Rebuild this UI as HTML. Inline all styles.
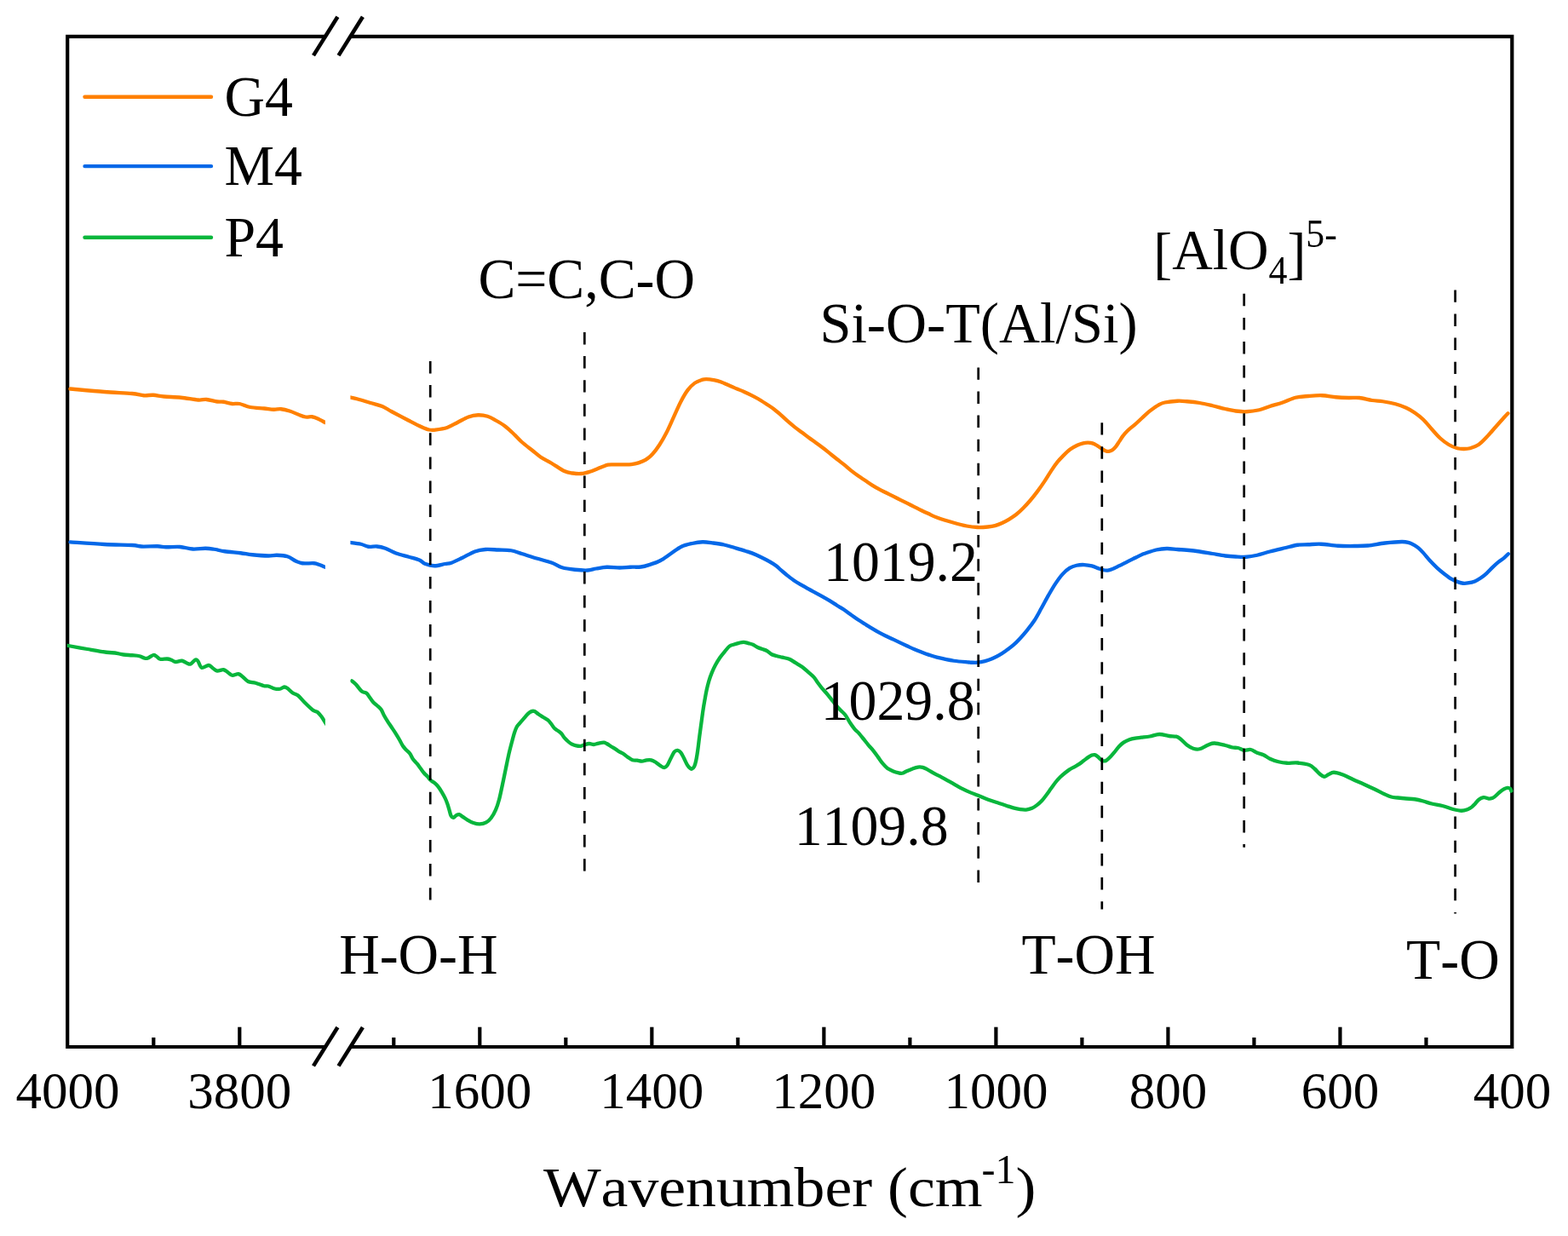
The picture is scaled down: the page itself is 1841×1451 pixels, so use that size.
<!DOCTYPE html>
<html lang="en"><head><meta charset="utf-8"><title>FTIR spectra</title>
<style>html,body{margin:0;padding:0;background:#fff}body{width:1841px;height:1451px;overflow:hidden}svg{display:block}text{font-family:"Liberation Serif","Times New Roman",serif;fill:#000;font-kerning:none}</style></head><body>
<svg width="1841" height="1451" viewBox="0 0 1841 1451">
<rect width="1841" height="1451" fill="#fff"/>
<defs><clipPath id="cl"><rect x="78.70" y="0" width="303.20" height="1451"/></clipPath><clipPath id="cr"><rect x="411.40" y="0" width="1378.60" height="1451"/></clipPath></defs>
<g stroke="#000" stroke-width="4.20" fill="none" stroke-linecap="butt">
<path d="M382.00 42.90 H79.20 V1229.00 H382.00"/>
<path d="M411.50 42.90 H1775.30 V1229.00 H411.50"/>
<line stroke-width="4.6" x1="368.00" y1="65.10" x2="396.40" y2="19.70"/>
<line stroke-width="4.6" x1="397.50" y1="65.10" x2="425.90" y2="19.70"/>
<line stroke-width="4.6" x1="368.00" y1="1251.40" x2="396.40" y2="1206.00"/>
<line stroke-width="4.6" x1="397.50" y1="1251.40" x2="425.90" y2="1206.00"/>
<line x1="281.30" y1="1229.00" x2="281.30" y2="1205.70"/>
<line x1="563.30" y1="1229.00" x2="563.30" y2="1205.70"/>
<line x1="765.33" y1="1229.00" x2="765.33" y2="1205.70"/>
<line x1="967.36" y1="1229.00" x2="967.36" y2="1205.70"/>
<line x1="1169.39" y1="1229.00" x2="1169.39" y2="1205.70"/>
<line x1="1371.42" y1="1229.00" x2="1371.42" y2="1205.70"/>
<line x1="1573.45" y1="1229.00" x2="1573.45" y2="1205.70"/>
<line x1="180.30" y1="1229.00" x2="180.30" y2="1218.00"/>
<line x1="462.28" y1="1229.00" x2="462.28" y2="1218.00"/>
<line x1="664.31" y1="1229.00" x2="664.31" y2="1218.00"/>
<line x1="866.35" y1="1229.00" x2="866.35" y2="1218.00"/>
<line x1="1068.38" y1="1229.00" x2="1068.38" y2="1218.00"/>
<line x1="1270.40" y1="1229.00" x2="1270.40" y2="1218.00"/>
<line x1="1472.43" y1="1229.00" x2="1472.43" y2="1218.00"/>
<line x1="1674.47" y1="1229.00" x2="1674.47" y2="1218.00"/>
</g>
<g fill="none" stroke-width="4.30" stroke-linejoin="round" stroke-linecap="round">
<path clip-path="url(#cl)" stroke="#08B63C" d="M76.00 757.30C76.67 757.42 75.58 757.22 80.00 758.00C84.42 758.78 95.00 760.71 102.50 762.00C110.00 763.29 119.58 765.00 125.00 765.75C130.42 766.50 131.67 766.04 135.00 766.50C138.33 766.96 141.67 768.04 145.00 768.50C148.33 768.96 151.88 768.96 155.00 769.25C158.12 769.54 161.25 769.67 163.75 770.25C166.25 770.83 168.33 772.38 170.00 772.75C171.67 773.12 172.08 773.12 173.75 772.50C175.42 771.88 178.33 769.33 180.00 769.00C181.67 768.67 182.42 769.71 183.75 770.50C185.08 771.29 185.92 773.25 188.00 773.75C190.08 774.25 194.04 773.33 196.25 773.50C198.46 773.67 199.58 774.17 201.25 774.75C202.92 775.33 204.17 776.83 206.25 777.00C208.33 777.17 211.46 775.46 213.75 775.75C216.04 776.04 218.33 778.12 220.00 778.75C221.67 779.38 222.17 780.21 223.75 779.50C225.33 778.79 228.04 775.04 229.50 774.50C230.96 773.96 231.29 774.71 232.50 776.25C233.71 777.79 234.67 782.96 236.75 783.75C238.83 784.54 242.79 780.88 245.00 781.00C247.21 781.12 248.33 783.42 250.00 784.50C251.67 785.58 252.92 787.21 255.00 787.50C257.08 787.79 260.42 785.96 262.50 786.25C264.58 786.54 265.83 788.17 267.50 789.25C269.17 790.33 270.42 792.42 272.50 792.75C274.58 793.08 277.92 790.96 280.00 791.25C282.08 791.54 283.12 793.04 285.00 794.50C286.88 795.96 288.75 798.79 291.25 800.00C293.75 801.21 296.88 800.88 300.00 801.75C303.12 802.62 307.50 804.62 310.00 805.25C312.50 805.88 312.92 804.96 315.00 805.50C317.08 806.04 320.21 807.96 322.50 808.50C324.79 809.04 326.88 809.08 328.75 808.75C330.62 808.42 332.29 806.62 333.75 806.50C335.21 806.38 335.83 806.83 337.50 808.00C339.17 809.17 341.67 812.08 343.75 813.50C345.83 814.92 347.71 814.67 350.00 816.50C352.29 818.33 354.58 821.62 357.50 824.50C360.42 827.38 365.00 831.88 367.50 833.75C370.00 835.62 370.83 834.50 372.50 835.75C374.17 837.00 375.96 839.21 377.50 841.25C379.04 843.29 380.83 846.54 381.75 848.00C382.67 849.46 382.79 849.67 383.00 850.00"/>
<path clip-path="url(#cr)" stroke="#08B63C" d="M413.09 799.30C413.89 799.99 415.97 801.36 417.92 803.43C419.87 805.50 422.74 809.98 424.81 811.70C426.88 813.42 428.71 812.51 430.32 813.77C431.93 815.03 433.08 817.44 434.46 819.28C435.84 821.12 437.21 823.31 438.59 824.80C439.97 826.29 441.24 826.86 442.73 828.24C444.22 829.62 446.17 831.12 447.55 833.07C448.93 835.02 449.74 837.66 451.00 839.96C452.26 842.26 453.75 844.67 455.13 846.85C456.51 849.03 457.66 850.64 459.27 853.05C460.88 855.46 463.17 858.79 464.78 861.32C466.39 863.85 467.54 865.81 468.92 868.22C470.30 870.63 471.67 873.73 473.05 875.80C474.43 877.87 475.81 879.13 477.19 880.62C478.57 882.11 480.06 883.04 481.32 884.76C482.58 886.48 483.39 889.01 484.77 890.96C486.15 892.91 488.10 894.63 489.59 896.47C491.08 898.31 492.35 900.14 493.73 901.98C495.11 903.82 496.48 905.89 497.86 907.50C499.24 909.11 500.74 910.25 502.00 911.63C503.26 913.01 504.06 914.51 505.44 915.77C506.82 917.03 508.78 917.95 510.27 919.21C511.76 920.47 513.02 921.63 514.40 923.35C515.78 925.07 517.16 927.25 518.54 929.55C519.92 931.85 521.52 934.72 522.67 937.13C523.82 939.54 524.62 941.72 525.43 944.02C526.23 946.32 526.81 948.62 527.50 950.92C528.19 953.22 528.77 956.32 529.57 957.81C530.37 959.30 531.29 960.00 532.32 959.88C533.35 959.76 534.62 957.74 535.77 957.12C536.92 956.50 537.95 955.85 539.21 956.15C540.47 956.45 541.74 957.83 543.35 958.91C544.96 959.99 546.79 961.43 548.86 962.63C550.93 963.83 553.34 965.28 555.75 966.08C558.16 966.88 560.81 967.58 563.34 967.46C565.87 967.35 568.74 966.54 570.92 965.39C573.10 964.24 574.59 962.98 576.43 960.57C578.27 958.16 580.33 954.60 581.94 950.92C583.55 947.24 584.68 943.80 586.08 938.51C587.48 933.22 589.06 925.17 590.34 919.19C591.62 913.21 592.63 908.16 593.78 902.65C594.93 897.14 596.08 891.16 597.23 886.11C598.38 881.06 599.53 876.69 600.68 872.32C601.83 867.96 603.09 863.13 604.12 859.92C605.15 856.70 605.85 854.87 606.88 853.03C607.91 851.19 609.06 850.38 610.32 848.89C611.58 847.40 612.85 845.91 614.46 844.07C616.07 842.23 618.36 839.35 619.97 837.86C621.58 836.37 622.85 835.57 624.11 835.11C625.37 834.65 626.17 834.54 627.55 835.11C628.93 835.68 630.66 837.40 632.38 838.55C634.10 839.70 636.05 840.85 637.89 842.00C639.73 843.15 641.79 844.06 643.40 845.44C645.01 846.82 646.27 848.66 647.54 850.27C648.80 851.88 649.73 853.83 650.99 855.09C652.25 856.35 653.74 856.82 655.12 857.85C656.50 858.88 658.00 859.92 659.26 861.30C660.52 862.68 661.44 864.63 662.70 866.12C663.96 867.61 665.46 869.03 666.84 870.25C668.22 871.47 669.36 872.58 670.97 873.43C672.58 874.28 674.65 874.96 676.49 875.35C678.33 875.74 680.39 875.93 682.00 875.77C683.61 875.61 684.52 874.85 686.13 874.39C687.74 873.93 689.81 873.08 691.65 873.01C693.49 872.94 695.32 874.05 697.16 873.98C699.00 873.91 700.72 872.99 702.67 872.60C704.62 872.21 707.27 871.56 708.88 871.63C710.49 871.70 710.83 872.20 712.32 873.01C713.81 873.82 716.00 875.31 717.84 876.46C719.68 877.61 721.74 878.87 723.35 879.90C724.96 880.93 726.10 881.86 727.48 882.66C728.86 883.46 730.01 883.70 731.62 884.73C733.23 885.76 735.29 887.60 737.13 888.86C738.97 890.12 740.81 891.67 742.65 892.31C744.49 892.95 746.32 892.49 748.16 892.72C750.00 892.95 751.83 893.76 753.67 893.69C755.51 893.62 757.35 892.54 759.19 892.31C761.03 892.08 762.86 891.85 764.70 892.31C766.54 892.77 768.37 893.92 770.21 895.07C772.05 896.22 774.10 898.21 775.73 899.20C777.36 900.19 778.72 901.11 780.00 900.99C781.28 900.88 782.17 900.30 783.43 898.51C784.69 896.72 786.19 892.88 787.57 890.24C788.95 887.60 790.37 884.22 791.70 882.66C793.03 881.10 794.30 880.75 795.56 880.87C796.82 880.99 798.08 881.90 799.28 883.35C800.48 884.80 801.47 887.14 802.73 889.55C803.99 891.96 805.60 895.75 806.86 897.82C808.12 899.89 809.39 901.16 810.31 901.96C811.23 902.76 811.58 903.00 812.38 902.65C813.18 902.30 814.33 901.50 815.13 899.89C815.93 898.28 816.51 896.22 817.20 893.00C817.89 889.78 818.58 885.42 819.27 880.59C819.96 875.76 820.65 869.33 821.34 864.05C822.03 858.77 822.71 853.94 823.40 848.89C824.09 843.84 824.78 838.33 825.47 833.73C826.16 829.13 826.85 825.23 827.54 821.32C828.23 817.42 828.81 813.97 829.61 810.30C830.41 806.62 831.33 802.72 832.36 799.27C833.39 795.82 834.55 792.72 835.81 789.62C837.07 786.52 838.33 783.65 839.94 780.66C841.55 777.67 843.62 774.34 845.46 771.70C847.30 769.06 849.13 766.99 850.97 764.81C852.81 762.63 854.65 759.99 856.49 758.61C858.33 757.23 860.16 757.16 862.00 756.54C863.84 755.92 865.67 755.35 867.51 754.89C869.35 754.43 871.19 753.74 873.03 753.78C874.87 753.82 876.70 754.65 878.54 755.16C880.38 755.67 882.21 756.02 884.05 756.82C885.89 757.62 887.73 759.12 889.57 759.99C891.41 760.86 893.24 761.36 895.08 762.05C896.92 762.74 898.75 763.09 900.59 764.12C902.43 765.15 904.27 767.27 906.11 768.26C907.95 769.25 909.55 769.48 911.62 770.05C913.69 770.62 915.98 771.08 918.51 771.70C921.04 772.32 924.25 772.74 926.78 773.77C929.31 774.80 931.14 776.36 933.67 777.90C936.20 779.44 939.41 781.16 941.94 783.00C944.47 784.84 946.54 786.91 948.84 788.93C951.14 790.95 953.87 793.06 955.73 795.13C957.59 797.20 958.49 799.27 960.00 801.34C961.51 803.41 963.09 805.48 964.81 807.55C966.53 809.62 968.48 811.58 970.32 813.76C972.16 815.94 974.00 818.35 975.84 820.65C977.68 822.95 979.51 825.36 981.35 827.54C983.19 829.72 985.02 831.79 986.86 833.74C988.70 835.69 990.54 836.85 992.38 839.26C994.22 841.67 996.05 845.46 997.89 848.22C999.73 850.98 1001.56 853.62 1003.40 855.80C1005.24 857.98 1007.08 859.24 1008.92 861.31C1010.76 863.38 1012.59 865.90 1014.43 868.20C1016.27 870.50 1018.10 872.91 1019.94 875.09C1021.78 877.27 1023.62 879.00 1025.46 881.30C1027.30 883.60 1029.13 886.35 1030.97 888.88C1032.81 891.41 1034.65 894.28 1036.49 896.46C1038.33 898.64 1039.93 900.48 1042.00 901.97C1044.07 903.46 1046.82 904.55 1048.89 905.42C1050.96 906.29 1052.68 906.82 1054.40 907.21C1056.12 907.60 1057.62 908.06 1059.23 907.76C1060.84 907.46 1062.10 906.27 1064.05 905.42C1066.00 904.57 1068.64 903.46 1070.94 902.66C1073.24 901.86 1075.77 900.89 1077.84 900.59C1079.91 900.29 1081.51 900.41 1083.35 900.87C1085.19 901.33 1086.56 902.13 1088.86 903.35C1091.16 904.57 1094.37 906.68 1097.13 908.17C1099.89 909.66 1102.64 910.86 1105.40 912.31C1108.16 913.76 1110.91 915.32 1113.67 916.86C1116.43 918.40 1119.18 920.00 1121.94 921.54C1124.70 923.08 1127.20 924.57 1130.21 926.09C1133.22 927.61 1136.99 929.37 1140.00 930.64C1143.01 931.91 1145.51 932.61 1148.27 933.69C1151.03 934.77 1153.78 936.05 1156.54 937.13C1159.30 938.21 1162.05 939.20 1164.81 940.17C1167.57 941.13 1170.32 942.00 1173.08 942.92C1175.84 943.84 1178.59 944.76 1181.35 945.68C1184.11 946.60 1186.86 947.68 1189.62 948.44C1192.38 949.20 1195.36 949.86 1197.89 950.23C1200.42 950.60 1202.48 950.87 1204.78 950.64C1207.08 950.41 1209.60 949.72 1211.67 948.85C1213.74 947.98 1215.35 946.78 1217.19 945.40C1219.03 944.02 1220.86 942.53 1222.70 940.58C1224.54 938.63 1226.38 936.10 1228.22 933.69C1230.06 931.28 1231.89 928.64 1233.73 926.11C1235.57 923.58 1237.40 920.83 1239.24 918.53C1241.08 916.23 1242.92 914.16 1244.76 912.32C1246.60 910.48 1248.43 908.99 1250.27 907.50C1252.11 906.01 1253.94 904.56 1255.78 903.36C1257.62 902.16 1259.46 901.36 1261.30 900.33C1263.14 899.30 1264.97 898.38 1266.81 897.16C1268.65 895.94 1270.48 894.41 1272.32 893.03C1274.16 891.65 1276.23 889.97 1277.84 888.89C1279.45 887.81 1280.71 887.01 1281.97 886.55C1283.23 886.09 1284.27 885.86 1285.42 886.13C1286.57 886.40 1287.71 887.28 1288.86 888.20C1290.01 889.12 1291.27 890.80 1292.31 891.65C1293.35 892.50 1294.04 893.07 1295.07 893.30C1296.10 893.53 1297.25 893.65 1298.51 893.03C1299.77 892.41 1301.04 891.19 1302.65 889.58C1304.26 887.97 1306.32 885.56 1308.16 883.38C1310.00 881.20 1311.83 878.44 1313.67 876.49C1315.51 874.54 1317.12 873.04 1319.19 871.66C1321.26 870.28 1323.78 869.07 1326.08 868.22C1328.38 867.37 1330.65 866.97 1332.97 866.56C1335.29 866.14 1337.16 866.07 1340.00 865.73C1342.84 865.39 1346.46 865.12 1350.00 864.50C1353.54 863.88 1357.50 862.08 1361.25 862.00C1365.00 861.92 1369.21 863.55 1372.50 864.00C1375.79 864.45 1378.75 864.12 1381.00 864.70C1383.25 865.28 1383.92 865.87 1386.00 867.50C1388.08 869.13 1391.00 872.62 1393.50 874.50C1396.00 876.38 1398.50 877.96 1401.00 878.75C1403.50 879.54 1405.58 879.96 1408.50 879.25C1411.42 878.54 1415.58 875.62 1418.50 874.50C1421.42 873.38 1422.67 872.42 1426.00 872.50C1429.33 872.58 1434.96 874.17 1438.50 875.00C1442.04 875.83 1444.75 877.00 1447.25 877.50C1449.75 878.00 1451.21 877.46 1453.50 878.00C1455.79 878.54 1458.50 880.42 1461.00 880.75C1463.50 881.08 1466.00 879.50 1468.50 880.00C1471.00 880.50 1473.50 882.71 1476.00 883.75C1478.50 884.79 1481.00 885.08 1483.50 886.25C1486.00 887.42 1488.08 889.42 1491.00 890.75C1493.92 892.08 1497.67 893.42 1501.00 894.25C1504.33 895.08 1507.25 895.54 1511.00 895.75C1514.75 895.96 1519.12 895.12 1523.50 895.50C1527.88 895.88 1533.92 896.83 1537.25 898.00C1540.58 899.17 1541.42 900.71 1543.50 902.50C1545.58 904.29 1547.88 907.21 1549.75 908.75C1551.62 910.29 1553.08 911.67 1554.75 911.75C1556.42 911.83 1557.88 910.08 1559.75 909.25C1561.62 908.42 1563.29 906.75 1566.00 906.75C1568.71 906.75 1572.25 907.88 1576.00 909.25C1579.75 910.62 1584.33 913.12 1588.50 915.00C1592.67 916.88 1596.83 918.62 1601.00 920.50C1605.17 922.38 1609.33 924.25 1613.50 926.25C1617.67 928.25 1622.67 930.96 1626.00 932.50C1629.33 934.04 1631.00 934.83 1633.50 935.50C1636.00 936.17 1638.08 936.17 1641.00 936.50C1643.92 936.83 1647.67 937.21 1651.00 937.50C1654.33 937.79 1657.67 937.75 1661.00 938.25C1664.33 938.75 1667.67 939.62 1671.00 940.50C1674.33 941.38 1677.25 942.58 1681.00 943.50C1684.75 944.42 1689.33 944.92 1693.50 946.00C1697.67 947.08 1702.25 949.04 1706.00 950.00C1709.75 950.96 1713.08 951.75 1716.00 951.75C1718.92 951.75 1721.48 950.73 1723.50 950.00C1725.52 949.27 1726.68 948.48 1728.10 947.40C1729.52 946.32 1730.63 944.95 1732.00 943.50C1733.37 942.05 1734.68 939.92 1736.30 938.70C1737.92 937.48 1740.17 936.52 1741.70 936.20C1743.23 935.88 1744.32 936.57 1745.50 936.80C1746.68 937.03 1747.75 937.57 1748.80 937.60C1749.85 937.63 1750.80 937.37 1751.80 937.00C1752.80 936.63 1753.32 936.57 1754.80 935.40C1756.28 934.23 1758.80 931.53 1760.70 930.00C1762.60 928.47 1764.65 927.07 1766.20 926.20C1767.75 925.33 1768.83 924.87 1770.00 924.80C1771.17 924.73 1772.47 925.17 1773.20 925.80C1773.93 926.43 1774.20 928.13 1774.40 928.60"/>
<path clip-path="url(#cl)" stroke="#0568E8" d="M82.50 636.30C89.17 636.75 110.42 638.38 122.50 639.00C134.58 639.62 147.71 639.58 155.00 640.00C162.29 640.42 161.25 641.29 166.25 641.50C171.25 641.71 180.21 641.12 185.00 641.25C189.79 641.38 190.62 642.12 195.00 642.25C199.38 642.38 206.04 641.62 211.25 642.00C216.46 642.38 221.25 644.21 226.25 644.50C231.25 644.79 237.08 643.71 241.25 643.75C245.42 643.79 247.50 644.17 251.25 644.75C255.00 645.33 258.54 646.50 263.75 647.25C268.96 648.00 277.08 648.58 282.50 649.25C287.92 649.92 290.83 650.71 296.25 651.25C301.67 651.79 310.21 652.42 315.00 652.50C319.79 652.58 321.25 651.62 325.00 651.75C328.75 651.88 333.75 652.08 337.50 653.25C341.25 654.42 344.58 657.42 347.50 658.75C350.42 660.08 351.46 660.83 355.00 661.25C358.54 661.67 365.42 660.96 368.75 661.25C372.08 661.54 372.83 662.25 375.00 663.00C377.17 663.75 380.62 665.29 381.75 665.75"/>
<path clip-path="url(#cr)" stroke="#0568E8" d="M410.00 636.80C412.29 637.12 420.00 637.92 423.75 638.75C427.50 639.58 429.38 641.29 432.50 641.75C435.62 642.21 439.17 641.17 442.50 641.50C445.83 641.83 448.75 642.42 452.50 643.75C456.25 645.08 460.42 647.83 465.00 649.50C469.58 651.17 475.42 652.42 480.00 653.75C484.58 655.08 489.38 656.17 492.50 657.50C495.62 658.83 495.83 660.62 498.75 661.75C501.67 662.88 506.04 664.21 510.00 664.25C513.96 664.29 519.17 662.58 522.50 662.00C525.83 661.42 526.67 661.92 530.00 660.75C533.33 659.58 537.92 657.21 542.50 655.00C547.08 652.79 552.92 649.17 557.50 647.50C562.08 645.83 565.42 645.33 570.00 645.00C574.58 644.67 580.00 645.29 585.00 645.50C590.00 645.71 595.42 645.50 600.00 646.25C604.58 647.00 607.50 648.46 612.50 650.00C617.50 651.54 624.17 653.75 630.00 655.50C635.83 657.25 642.50 658.71 647.50 660.50C652.50 662.29 655.42 664.88 660.00 666.25C664.58 667.62 670.00 668.21 675.00 668.75C680.00 669.29 685.83 669.71 690.00 669.50C694.17 669.29 696.25 668.12 700.00 667.50C703.75 666.88 707.92 665.92 712.50 665.75C717.08 665.58 722.92 666.50 727.50 666.50C732.08 666.50 735.83 665.92 740.00 665.75C744.17 665.58 748.75 665.96 752.50 665.50C756.25 665.04 758.75 664.21 762.50 663.00C766.25 661.79 770.83 660.42 775.00 658.25C779.17 656.08 783.33 652.75 787.50 650.00C791.67 647.25 795.83 643.75 800.00 641.75C804.17 639.75 808.33 638.92 812.50 638.00C816.67 637.08 820.83 636.33 825.00 636.25C829.17 636.17 833.33 636.96 837.50 637.50C841.67 638.04 845.83 638.58 850.00 639.50C854.17 640.42 858.33 641.79 862.50 643.00C866.67 644.21 870.83 645.38 875.00 646.75C879.17 648.12 881.96 648.70 887.50 651.25C893.04 653.80 903.43 659.09 908.27 662.04C913.11 664.99 913.78 666.63 916.54 668.93C919.30 671.23 922.05 673.64 924.81 675.82C927.57 678.00 930.32 680.19 933.08 682.03C935.84 683.87 938.59 685.24 941.35 686.85C944.11 688.46 946.86 690.13 949.62 691.67C952.38 693.21 955.13 694.60 957.89 696.09C960.65 697.58 963.40 699.07 966.16 700.63C968.92 702.19 971.67 703.78 974.43 705.46C977.19 707.14 979.94 708.98 982.70 710.70C985.46 712.42 988.21 713.96 990.97 715.80C993.73 717.64 996.48 719.77 999.24 721.72C1002.00 723.67 1004.75 725.67 1007.51 727.51C1010.27 729.35 1013.02 731.03 1015.78 732.75C1018.54 734.47 1021.29 736.20 1024.05 737.85C1026.81 739.50 1029.56 741.18 1032.32 742.67C1035.08 744.16 1037.83 745.48 1040.59 746.81C1043.35 748.14 1046.10 749.36 1048.86 750.67C1051.62 751.98 1054.37 753.36 1057.13 754.67C1059.89 755.98 1062.64 757.27 1065.40 758.53C1068.16 759.79 1070.91 761.08 1073.67 762.25C1076.43 763.42 1079.18 764.49 1081.94 765.55C1084.70 766.61 1087.20 767.58 1090.21 768.59C1093.22 769.60 1095.04 770.43 1100.00 771.62C1104.96 772.81 1113.75 774.77 1120.00 775.75C1126.25 776.73 1134.17 777.17 1137.50 777.50C1140.83 777.83 1138.20 777.69 1140.00 777.73C1141.80 777.77 1145.51 778.00 1148.27 777.73C1151.03 777.46 1153.78 776.82 1156.54 776.08C1159.30 775.35 1162.05 774.47 1164.81 773.32C1167.57 772.17 1170.32 770.80 1173.08 769.19C1175.84 767.58 1178.59 765.62 1181.35 763.67C1184.11 761.72 1186.86 759.88 1189.62 757.47C1192.38 755.06 1195.13 752.19 1197.89 749.20C1200.65 746.21 1203.40 743.00 1206.16 739.55C1208.92 736.10 1211.67 732.78 1214.43 728.53C1217.19 724.28 1219.94 718.99 1222.70 714.05C1225.46 709.11 1228.21 703.71 1230.97 698.89C1233.73 694.07 1236.48 689.25 1239.24 685.11C1242.00 680.98 1244.75 677.11 1247.51 674.08C1250.27 671.05 1253.02 668.63 1255.78 666.91C1258.54 665.19 1261.18 664.38 1264.05 663.74C1266.92 663.10 1270.02 662.93 1273.01 663.05C1276.00 663.16 1279.10 663.69 1281.97 664.43C1284.84 665.16 1287.94 666.65 1290.24 667.46C1292.54 668.27 1294.03 668.91 1295.75 669.26C1297.47 669.61 1298.97 669.69 1300.58 669.53C1302.19 669.37 1303.22 669.14 1305.40 668.29C1307.58 667.44 1310.91 665.76 1313.67 664.43C1316.43 663.10 1319.18 661.68 1321.94 660.30C1324.70 658.92 1327.20 657.65 1330.21 656.16C1333.22 654.67 1337.54 652.45 1340.00 651.34C1342.46 650.23 1342.08 650.47 1345.00 649.50C1347.92 648.53 1353.33 646.42 1357.50 645.50C1361.67 644.58 1365.83 644.08 1370.00 644.00C1374.17 643.92 1378.58 644.71 1382.50 645.00C1386.42 645.29 1389.17 645.33 1393.50 645.75C1397.83 646.17 1403.50 646.79 1408.50 647.50C1413.50 648.21 1418.50 649.17 1423.50 650.00C1428.50 650.83 1433.92 651.92 1438.50 652.50C1443.08 653.08 1446.83 653.29 1451.00 653.50C1455.17 653.71 1459.33 654.04 1463.50 653.75C1467.67 653.46 1471.42 652.79 1476.00 651.75C1480.58 650.71 1485.58 648.92 1491.00 647.50C1496.42 646.08 1503.08 644.54 1508.50 643.25C1513.92 641.96 1518.92 640.42 1523.50 639.75C1528.08 639.08 1531.42 639.42 1536.00 639.25C1540.58 639.08 1545.17 638.50 1551.00 638.75C1556.83 639.00 1564.33 640.38 1571.00 640.75C1577.67 641.12 1585.17 641.04 1591.00 641.00C1596.83 640.96 1600.17 641.08 1606.00 640.50C1611.83 639.92 1619.33 638.25 1626.00 637.50C1632.67 636.75 1641.26 636.05 1646.00 636.00C1650.74 635.95 1652.11 636.58 1654.43 637.19C1656.75 637.80 1658.10 638.64 1659.94 639.67C1661.78 640.70 1663.62 641.85 1665.46 643.39C1667.30 644.93 1668.67 646.37 1670.97 648.90C1673.27 651.43 1676.48 655.56 1679.24 658.55C1682.00 661.54 1684.75 664.29 1687.51 666.82C1690.27 669.35 1693.02 671.57 1695.78 673.71C1698.54 675.85 1701.29 678.03 1704.05 679.64C1706.81 681.25 1710.02 682.51 1712.32 683.36C1714.62 684.21 1716.00 684.56 1717.84 684.74C1719.68 684.92 1721.05 684.86 1723.35 684.47C1725.65 684.08 1729.09 683.39 1731.62 682.40C1734.15 681.41 1736.21 680.10 1738.51 678.54C1740.81 676.98 1743.10 675.10 1745.40 673.03C1747.70 670.96 1749.99 668.31 1752.29 666.13C1754.59 663.95 1756.89 661.81 1759.19 659.93C1761.49 658.05 1764.13 656.44 1766.08 654.83C1768.03 653.22 1770.10 651.04 1770.90 650.28"/>
<path clip-path="url(#cl)" stroke="#FF8000" d="M82.50 456.50C89.17 457.08 110.42 459.08 122.50 460.00C134.58 460.92 147.29 461.29 155.00 462.00C162.71 462.71 164.58 463.96 168.75 464.25C172.92 464.54 176.04 463.54 180.00 463.75C183.96 463.96 187.08 465.00 192.50 465.50C197.92 466.00 205.83 466.08 212.50 466.75C219.17 467.42 227.50 469.12 232.50 469.50C237.50 469.88 238.75 468.67 242.50 469.00C246.25 469.33 251.67 471.04 255.00 471.50C258.33 471.96 259.58 471.33 262.50 471.75C265.42 472.17 269.38 473.62 272.50 474.00C275.62 474.38 277.71 473.33 281.25 474.00C284.79 474.67 288.96 477.08 293.75 478.00C298.54 478.92 305.42 479.04 310.00 479.50C314.58 479.96 317.92 480.62 321.25 480.75C324.58 480.88 326.88 479.96 330.00 480.25C333.12 480.54 336.67 481.46 340.00 482.50C343.33 483.54 346.88 485.33 350.00 486.50C353.12 487.67 356.04 489.04 358.75 489.50C361.46 489.96 363.96 488.96 366.25 489.25C368.54 489.54 369.92 490.12 372.50 491.25C375.08 492.38 380.21 495.21 381.75 496.00"/>
<path clip-path="url(#cr)" stroke="#FF8000" d="M410.00 466.30C411.67 466.67 415.83 467.38 420.00 468.50C424.17 469.62 430.21 471.58 435.00 473.00C439.79 474.42 444.58 475.29 448.75 477.00C452.92 478.71 454.79 480.46 460.00 483.25C465.21 486.04 474.17 490.75 480.00 493.75C485.83 496.75 491.04 499.46 495.00 501.25C498.96 503.04 501.04 503.94 503.75 504.50C506.46 505.06 507.71 505.02 511.25 504.60C514.79 504.18 520.62 503.48 525.00 502.00C529.38 500.52 533.33 497.83 537.50 495.75C541.67 493.67 546.04 490.92 550.00 489.50C553.96 488.08 557.50 487.38 561.25 487.25C565.00 487.12 568.96 487.67 572.50 488.75C576.04 489.83 579.17 491.88 582.50 493.75C585.83 495.62 589.17 497.50 592.50 500.00C595.83 502.50 599.17 505.62 602.50 508.75C605.83 511.88 608.75 515.42 612.50 518.75C616.25 522.08 621.25 525.75 625.00 528.75C628.75 531.75 631.25 534.25 635.00 536.75C638.75 539.25 642.92 541.04 647.50 543.75C652.08 546.46 658.33 551.04 662.50 553.00C666.67 554.96 669.17 555.00 672.50 555.50C675.83 556.00 679.17 556.29 682.50 556.00C685.83 555.71 689.58 554.60 692.50 553.75C695.42 552.90 697.37 551.97 700.00 550.93C702.63 549.88 705.97 548.35 708.27 547.48C710.57 546.61 711.94 546.03 713.78 545.69C715.62 545.35 717.46 545.46 719.30 545.42C721.14 545.38 722.51 545.42 724.81 545.42C727.11 545.42 730.32 545.47 733.08 545.42C735.84 545.37 738.59 545.49 741.35 545.14C744.11 544.79 746.86 544.22 749.62 543.35C752.38 542.48 755.13 541.62 757.89 539.90C760.65 538.18 763.40 536.00 766.16 533.01C768.92 530.02 771.67 526.23 774.43 521.98C777.19 517.73 779.94 512.91 782.70 507.51C785.46 502.11 788.21 495.56 790.97 489.59C793.73 483.62 796.48 476.95 799.24 471.67C802.00 466.39 804.75 461.56 807.51 457.89C810.27 454.21 813.02 451.62 815.78 449.62C818.54 447.62 821.75 446.63 824.05 445.90C826.35 445.16 827.27 445.16 829.57 445.21C831.87 445.26 835.08 445.68 837.84 446.18C840.60 446.69 842.89 447.09 846.11 448.24C849.33 449.39 853.91 451.69 857.13 453.07C860.35 454.45 862.64 455.36 865.40 456.51C868.16 457.66 870.91 458.74 873.67 459.96C876.43 461.18 879.18 462.44 881.94 463.82C884.70 465.20 887.20 466.46 890.21 468.23C893.22 470.00 896.99 472.47 900.00 474.43C903.01 476.39 905.51 477.90 908.27 479.97C911.03 482.04 913.78 484.45 916.54 486.86C919.30 489.27 922.05 492.04 924.81 494.45C927.57 496.86 930.32 499.16 933.08 501.34C935.84 503.52 938.59 505.47 941.35 507.54C944.11 509.61 946.86 511.72 949.62 513.74C952.38 515.76 955.13 517.67 957.89 519.67C960.65 521.67 963.40 523.62 966.16 525.73C968.92 527.84 971.67 530.14 974.43 532.35C977.19 534.56 979.94 536.79 982.70 538.97C985.46 541.15 988.21 543.21 990.97 545.44C993.73 547.67 996.48 550.16 999.24 552.34C1002.00 554.52 1004.75 556.59 1007.51 558.54C1010.27 560.49 1013.02 562.21 1015.78 564.05C1018.54 565.89 1021.29 567.85 1024.05 569.57C1026.81 571.29 1029.56 572.90 1032.32 574.39C1035.08 575.88 1037.83 577.15 1040.59 578.53C1043.35 579.91 1046.10 581.28 1048.86 582.66C1051.62 584.04 1054.37 585.42 1057.13 586.80C1059.89 588.18 1062.64 589.55 1065.40 590.93C1068.16 592.31 1070.91 593.69 1073.67 595.07C1076.43 596.45 1079.18 597.87 1081.94 599.20C1084.70 600.53 1087.20 601.68 1090.21 603.06C1093.22 604.44 1095.04 605.69 1100.00 607.47C1104.96 609.25 1114.17 612.08 1120.00 613.75C1125.83 615.42 1130.42 616.62 1135.00 617.50C1139.58 618.38 1143.33 618.83 1147.50 619.00C1151.67 619.17 1156.54 618.81 1160.00 618.50C1163.46 618.19 1165.51 617.88 1168.27 617.12C1171.03 616.36 1173.78 615.21 1176.54 613.95C1179.30 612.69 1182.05 611.19 1184.81 609.54C1187.57 607.88 1190.32 606.20 1193.08 604.02C1195.84 601.84 1198.59 599.20 1201.35 596.44C1204.11 593.68 1206.86 590.70 1209.62 587.48C1212.38 584.26 1215.13 580.83 1217.89 577.15C1220.65 573.47 1223.40 569.56 1226.16 565.43C1228.92 561.29 1231.90 556.13 1234.43 552.34C1236.96 548.55 1239.02 545.56 1241.32 542.69C1243.62 539.82 1245.69 537.64 1248.22 535.11C1250.75 532.58 1253.73 529.60 1256.49 527.53C1259.25 525.46 1262.23 523.89 1264.76 522.70C1267.29 521.51 1269.58 520.87 1271.65 520.36C1273.72 519.86 1275.32 519.67 1277.16 519.67C1279.00 519.67 1280.83 519.78 1282.67 520.36C1284.51 520.94 1286.35 522.04 1288.19 523.12C1290.03 524.20 1292.09 525.83 1293.70 526.84C1295.31 527.85 1296.46 528.67 1297.84 529.18C1299.22 529.68 1300.59 530.03 1301.97 529.87C1303.35 529.71 1304.73 529.19 1306.11 528.22C1307.49 527.25 1308.86 525.80 1310.24 524.08C1311.62 522.36 1313.00 519.95 1314.38 517.88C1315.76 515.81 1316.90 513.74 1318.51 511.67C1320.12 509.60 1321.72 507.65 1324.02 505.47C1326.32 503.29 1329.53 500.99 1332.29 498.58C1335.05 496.17 1337.81 493.53 1340.57 491.00C1343.33 488.47 1346.31 485.53 1348.84 483.42C1351.37 481.31 1353.87 479.63 1355.73 478.32C1357.59 477.01 1358.04 476.53 1360.00 475.56C1361.96 474.59 1363.75 473.30 1367.50 472.50C1371.25 471.70 1378.17 470.96 1382.50 470.75C1386.83 470.54 1389.17 470.88 1393.50 471.25C1397.83 471.62 1403.50 472.17 1408.50 473.00C1413.50 473.83 1418.50 475.08 1423.50 476.25C1428.50 477.42 1433.92 478.96 1438.50 480.00C1443.08 481.04 1446.83 481.96 1451.00 482.50C1455.17 483.04 1458.92 483.46 1463.50 483.25C1468.08 483.04 1473.92 482.29 1478.50 481.25C1483.08 480.21 1486.42 478.46 1491.00 477.00C1495.58 475.54 1501.00 474.21 1506.00 472.50C1511.00 470.79 1516.00 468.00 1521.00 466.75C1526.00 465.50 1530.79 465.42 1536.00 465.00C1541.21 464.58 1546.83 464.04 1552.25 464.25C1557.67 464.46 1563.29 465.79 1568.50 466.25C1573.71 466.71 1578.92 466.88 1583.50 467.00C1588.08 467.12 1591.42 466.50 1596.00 467.00C1600.58 467.50 1606.42 469.29 1611.00 470.00C1615.58 470.71 1618.92 470.54 1623.50 471.25C1628.08 471.96 1633.92 473.00 1638.50 474.25C1643.08 475.50 1647.25 477.04 1651.00 478.75C1654.75 480.46 1657.67 482.21 1661.00 484.50C1664.33 486.79 1667.67 489.29 1671.00 492.50C1674.33 495.71 1677.67 500.08 1681.00 503.75C1684.33 507.42 1687.67 511.46 1691.00 514.50C1694.33 517.54 1697.67 520.04 1701.00 522.00C1704.33 523.96 1708.08 525.42 1711.00 526.25C1713.92 527.08 1716.00 527.00 1718.50 527.00C1721.00 527.00 1723.08 527.08 1726.00 526.25C1728.92 525.42 1732.67 524.29 1736.00 522.00C1739.33 519.71 1742.67 515.96 1746.00 512.50C1749.33 509.04 1752.67 505.00 1756.00 501.25C1759.33 497.50 1763.58 492.68 1766.00 490.00C1768.42 487.32 1769.75 486.00 1770.50 485.20"/>
</g>
<g stroke="#000" stroke-width="2.7" stroke-dasharray="14.4 13.7" fill="none">
<line x1="505.20" y1="424.00" x2="505.20" y2="1058.00"/>
<line x1="686.30" y1="390.00" x2="686.30" y2="1024.00"/>
<line x1="1148.70" y1="431.40" x2="1148.70" y2="1036.80"/>
<line x1="1293.80" y1="496.20" x2="1293.80" y2="1067.50"/>
<line x1="1460.70" y1="344.80" x2="1460.70" y2="994.80"/>
<line x1="1708.60" y1="340.40" x2="1708.60" y2="1072.60"/>
</g>
<g fill="none" stroke-width="4.4" stroke-linecap="round">
<line x1="99.5" y1="113.8" x2="248" y2="113.8" stroke="#FF8000"/>
<line x1="99.5" y1="195.1" x2="248" y2="195.1" stroke="#0568E8"/>
<line x1="99.5" y1="278.8" x2="248" y2="278.8" stroke="#08B63C"/>
</g>
<g font-size="66.00">
<text transform="translate(263.50 136.30) scale(0.9970 1.0350)">G4</text>
<text transform="translate(263.50 217.40) scale(0.9970 1.0350)">M4</text>
<text transform="translate(263.50 300.90) scale(0.9970 1.0350)">P4</text>
<text transform="translate(561.40 350.20) scale(0.9970 1.0350)">C=C,C-O</text>
<text transform="translate(962.40 402.00) scale(1.0080 1.0350)">Si-O-T(Al/Si)</text>
<text transform="translate(967.00 682.00) scale(0.9970 1.0350)">1019.2</text>
<text transform="translate(963.70 844.50) scale(0.9970 1.0350)">1029.8</text>
<text transform="translate(932.70 992.30) scale(0.9970 1.0350)">1109.8</text>
<text transform="translate(398.20 1142.50) scale(0.9970 1.0350)">H-O-H</text>
<text transform="translate(1199.40 1142.50) scale(0.9970 1.0350)">T-OH</text>
<text transform="translate(1651.10 1149.20) scale(0.9970 1.0350)">T-O</text>
</g>
<g font-size="61.00" text-anchor="middle">
<text transform="translate(79.40 1300.80) scale(1.0000 1.0000)">4000</text>
<text transform="translate(281.30 1300.80) scale(1.0000 1.0000)">3800</text>
<text transform="translate(563.30 1300.80) scale(1.0000 1.0000)">1600</text>
<text transform="translate(765.33 1300.80) scale(1.0000 1.0000)">1400</text>
<text transform="translate(967.36 1300.80) scale(1.0000 1.0000)">1200</text>
<text transform="translate(1169.39 1300.80) scale(1.0000 1.0000)">1000</text>
<text transform="translate(1371.42 1300.80) scale(1.0000 1.0000)">800</text>
<text transform="translate(1573.45 1300.80) scale(1.0000 1.0000)">600</text>
<text transform="translate(1775.48 1300.80) scale(1.0000 1.0000)">400</text>
</g>
<text font-size="66" transform="translate(1354.3 316.2) scale(0.997 1.035)"><tspan dy="3.7">[</tspan><tspan dy="-3.7">AlO</tspan><tspan font-size="44" dy="16.6">4</tspan><tspan dy="-12.9">]</tspan><tspan font-size="44" dy="-29.4">5-</tspan></text>
<text font-size="72" transform="translate(637.9 1415.8) scale(0.996 0.92)">Wavenumber (cm</text>
<text font-size="48" transform="translate(1152.6 1388.9) scale(1 1.02)">-1</text>
<text font-size="72" transform="translate(1192.5 1415.8) scale(0.996 0.92)">)</text>
</svg></body></html>
